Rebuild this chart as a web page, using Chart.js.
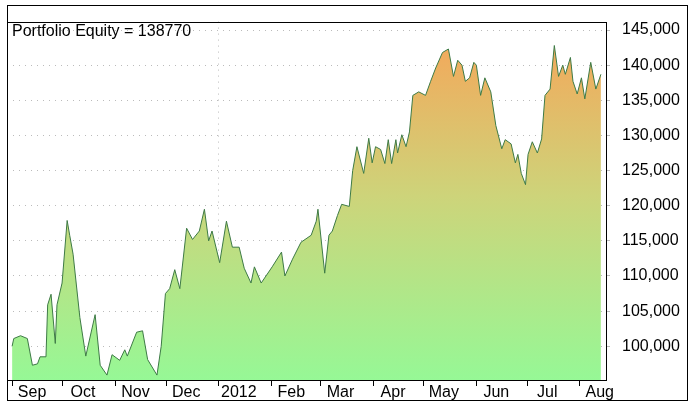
<!DOCTYPE html>
<html><head><meta charset="utf-8">
<script src="https://cdn.jsdelivr.net/npm/chart.js@4"></script>
<style>html,body{margin:0;padding:0;background:#fff}#w{width:693px;height:406px}</style>
</head><body><div id="w"><canvas id="c"></canvas></div>
<script>
const title = "Portfolio Equity = 138770";
const days = [0,1,5,9,12,15,16.5,20,21,23,25.5,26.5,29.5,32.5,34,36,40,43.5,49,52,56,59,63.5,66.5,68,73.5,77,80,85.5,88,90.5,93,96,99,103,106.5,110.5,113.5,116,118,122.5,126.5,130,134,137,141,143,147,153.5,159,161,165.5,170.5,176.5,179.5,180.5,184.5,187,189,192,194.5,199,201,203.5,207.5,210.5,212.5,214.5,217.5,220,222,224,226.5,227.5,230,232.5,234.5,236.5,240,244,247,250,254,257.5,260.5,263,265.5,267.5,270,272.5,274,276.5,279,282.5,285.5,289,291,294.5,297,298.5,300.5,303,304.5,307,310,312.5,314.5,317.5,320,322.5,325,326.5,329.5,331,333.5,336,338,341.5,344.5,347.5];
const equity = [100000,101100,101500,101100,97300,97500,98500,98500,105900,107400,100400,105900,109000,117900,115800,113100,104100,98600,104500,97300,95900,98800,98000,99500,98600,102000,102200,98100,95900,100000,107500,108200,110900,108200,116800,115200,116400,119500,115000,116400,111900,117800,114100,114100,111100,109000,111300,109000,111300,113400,110000,112400,114800,115800,117800,119500,110400,115800,116400,118600,120200,119900,125000,128400,124600,129600,126100,128400,128000,126000,129400,126000,129400,127500,130100,128400,130500,135700,136200,135700,137700,139600,141800,142300,138400,140700,140000,137700,138200,140400,140000,135700,138200,136200,131400,128100,129400,128800,126100,127300,124600,123000,127300,129100,127500,129500,135700,136600,142800,138400,140000,138700,141100,137700,135900,138200,135200,140400,136600,138700];
const monthDays = [0,30,61,91,122,153,182,213,243,274,304,335];
const monthLabels = ["Sep","Oct","Nov","Dec","2012","Feb","Mar","Apr","May","Jun","Jul","Aug"];
const yTicks = [100000,105000,110000,115000,120000,125000,130000,135000,140000,145000];

const frame = {
  id:'frame',
  afterDraw(ch){
    const c=ch.ctx, a=ch.chartArea;
    c.save(); c.strokeStyle='#000'; c.lineWidth=1;
    c.strokeRect(Math.round(a.left)+0.5,Math.round(a.top)+0.5,Math.round(a.right-a.left),Math.round(a.bottom-a.top));
    c.strokeRect(7.5,5.5,680,395);
    c.fillStyle='#000'; c.font='16px "Liberation Sans"'; c.textBaseline='top';
    c.fillText(title, a.left+5, a.top+2);
    c.restore();
  }
};
new Chart(document.getElementById('c'),{
  type:'line',
  data:{datasets:[{
    data: days.map((d,i)=>({x:d,y:equity[i]})),
    borderColor:'#3d7a45', borderWidth:1, pointRadius:0, tension:0, fill:'start',
    backgroundColor(ctx){
      const a=ctx.chart.chartArea; if(!a) return '#9f9';
      const g=ctx.chart.ctx.createLinearGradient(0,a.top+25,0,a.bottom);
      g.addColorStop(0,'#f2aa5c'); g.addColorStop(0.45,'#cdd47a'); g.addColorStop(1,'#96f896');
      return g;
    }
  }]},
  options:{
    responsive:true, maintainAspectRatio:false, animation:false,
    layout:{padding:{left:7,top:5,right:3,bottom:5}},
    plugins:{legend:{display:false},tooltip:{enabled:false}},
    scales:{
      x:{type:'linear',min:-3,max:350.5,
        afterBuildTicks(s){s.ticks=monthDays.map(v=>({value:v}));},
        afterFit(s){s.height=21;},
        ticks:{autoSkip:false,maxRotation:0,labelOffset:20,padding:-3,color:'#000',
          font:{family:'Liberation Sans',size:16},
          callback:(v)=>monthLabels[monthDays.indexOf(v)]},
        grid:{drawOnChartArea:true,tickLength:6,tickColor:'#000',
          color:(c)=>c.tick&&c.tick.value===122?'#bbb':'rgba(0,0,0,0)'},
        border:{display:false,dash:[1,5]}
      },
      y:{position:'right',min:95200,max:146200,
        afterBuildTicks(s){s.ticks=yTicks.map(v=>({value:v}));},
        afterFit(s){s.width=84;},
        ticks:{color:'#000',padding:12,font:{family:'Liberation Sans',size:16},
          callback:(v)=>v.toLocaleString('en-US')},
        grid:{color:'#bbb',tickLength:4,tickColor:'#bbb'},
        border:{display:false,dash:[1,5]}
      }
    }
  },
  plugins:[frame]
});
</script></body></html>
